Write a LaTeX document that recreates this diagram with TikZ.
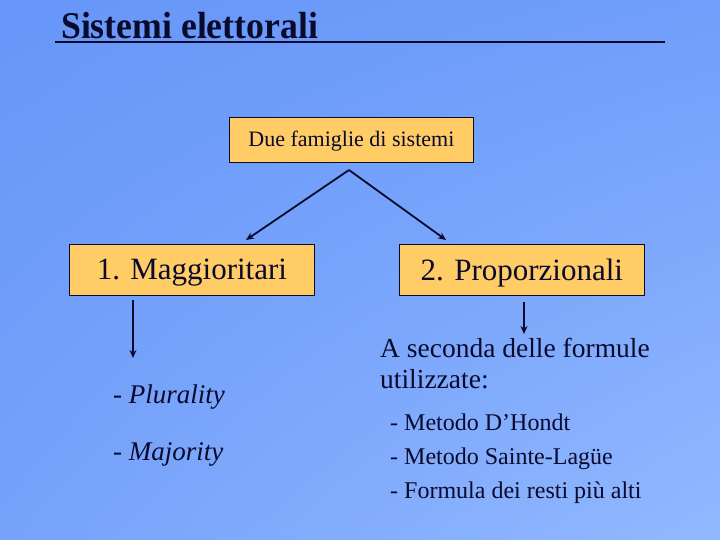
\documentclass[tikz,border=0pt]{standalone}
\usepackage{fontspec}
\setmainfont{Liberation Serif}
\newfontfamily\tnr{Liberation Serif}
\usetikzlibrary{arrows.meta,shadings}
\definecolor{bgTL}{RGB}{102,150,248}
\definecolor{bgTR}{RGB}{112,158,250}
\definecolor{bgBL}{RGB}{118,162,250}
\definecolor{bgBR}{RGB}{146,185,255}
\definecolor{boxfill}{RGB}{255,204,102}
\definecolor{ink}{RGB}{10,10,45}
\tikzset{
  famigliabox/.style={draw=ink, line width=0.8pt, fill=boxfill, inner sep=0pt, anchor=north west, text=ink},
  conn/.style={-{Stealth[length=8pt,width=7pt]}, draw=ink, line width=1.8pt},
  txt/.style={text=ink, inner sep=0pt, anchor=base west}
}
\begin{document}
\begin{tikzpicture}[x=1pt,y=-1pt]
\shade[upper left=bgTL, upper right=bgTR, lower left=bgBL, lower right=bgBR] (0,0) rectangle (720,540);
\useasboundingbox (0,0) rectangle (720,540);
% title
\node[txt, font=\tnr\fontsize{35}{40}\selectfont\bfseries, yscale=1.08, xscale=1.02] (title) at (61,39) {Sistemi elettorali};
\coordinate (ulA) at (55,42.5);
\coordinate (ulB) at (665,42.5);
\draw[ink, line width=2pt] (ulA) -- (ulB);
% boxes
\node[famigliabox, minimum width=244pt, minimum height=45pt, text depth=2pt, font=\tnr\fontsize{22}{24}\selectfont] (due) at (229,117) {Due famiglie di sistemi};
\node[famigliabox, minimum width=245pt, minimum height=51pt, text depth=1pt, font=\tnr\fontsize{31}{36}\selectfont] (mag) at (69,244) {1. Maggioritari};
\node[famigliabox, minimum width=245pt, minimum height=51pt, text depth=1pt, font=\tnr\fontsize{31}{36}\selectfont] (pro) at (399,244) {2. Proporzionali};
% arrows
\coordinate (split) at (349,170);
\coordinate (magtop) at (246,240);
\coordinate (protop) at (446,240);
\draw[conn] (split) -- (magtop);
\draw[conn] (split) -- (protop);
\coordinate (magA) at (133,300);
\coordinate (magB) at (133,358);
\draw[conn] (magA) -- (magB);
\coordinate (proA) at (524,302);
\coordinate (proB) at (524,334);
\draw[conn] (proA) -- (proB);
% left list
\node[txt, font=\tnr\fontsize{27}{30}\selectfont] (plur) at (113,403) {- \textit{Plurality}};
\node[txt, font=\tnr\fontsize{27}{30}\selectfont] (maj) at (113,460) {- \textit{Majority}};
% right text
\node[txt, font=\tnr\fontsize{27.5}{31}\selectfont, align=left, anchor=north west] (sec) at (380,338) {A seconda delle formule\\utilizzate:};
\node[txt, font=\tnr\fontsize{24}{34}\selectfont] (m1) at (390,430) {- Metodo D’Hondt};
\node[txt, font=\tnr\fontsize{24}{34}\selectfont] (m2) at (390,464) {- Metodo Sainte-Lagüe};
\node[txt, font=\tnr\fontsize{24}{34}\selectfont] (m3) at (390,498) {- Formula dei resti più alti};
\end{tikzpicture}
\end{document}
